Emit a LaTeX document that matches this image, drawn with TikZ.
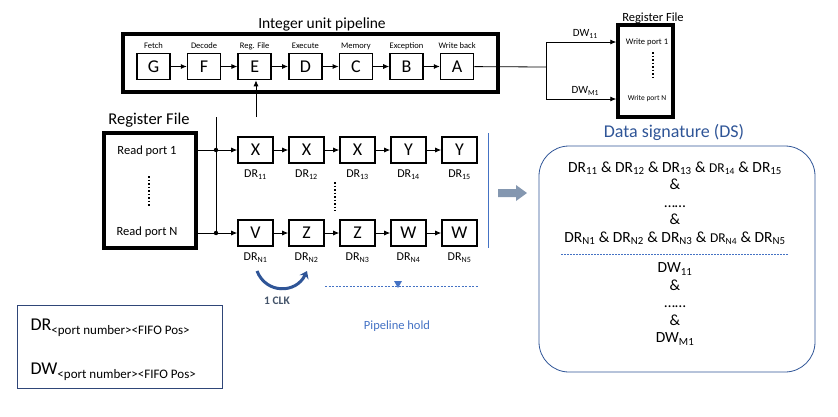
\documentclass[tikz,border=0pt]{standalone}
\usepackage{fontspec}
\setmainfont{Carlito}
\usetikzlibrary{arrows.meta}
\definecolor{lineblue}{RGB}{68,114,196}
\definecolor{titleblue}{RGB}{47,85,151}
\definecolor{legendblue}{RGB}{47,70,120}
\definecolor{clkgray}{RGB}{68,84,106}
\definecolor{hintgray}{RGB}{132,151,176}

\tikzset{
  stagebox/.style={draw,line width=1.6pt,minimum width=33pt,minimum height=26pt,inner sep=0pt,font=\fontsize{18}{18}\selectfont},
  fifobox/.style={stagebox,minimum width=35pt},
  stagename/.style={font=\fontsize{8.5}{8.5}\selectfont},
  fifoname/.style={font=\fontsize{12}{12}\selectfont},
  bigbox/.style={draw,line width=3.5pt,inner sep=0pt},
  wire/.style={line width=0.8pt,-{Latex[length=6pt,width=5pt]}},
  dsline/.style={font=\fontsize{15.5}{17.5}\selectfont,align=center},
}

\begin{document}
\begin{tikzpicture}[x=1pt,y=-1pt]
        \useasboundingbox (0,0) rectangle (838,416);
        % integer pipeline
        \node[bigbox,minimum width=375pt,minimum height=58pt] (pipe) at (310.5,63) {};
        \node[font=\fontsize{15.5}{15.5}\selectfont] (pipetitle) at (322,24) {Integer unit pipeline};
        \foreach \st/\nm [count=\i from 0] in {G/Fetch,F/Decode,E/Reg. File,D/Execute,C/Memory,B/Exception,A/Write back}{
            \node[stagebox] (s\i) at (153.5+50.6*\i,66.5) {\st};
            \node[stagename] (n\i) at (153.5+50.6*\i,46) {\nm};
        }
        \foreach \i [count=\j from 1] in {0,...,5}
            \draw[wire] (s\i) -- (s\j);

        % write side
        \coordinate (split) at (546,67);
        \node[bigbox,minimum width=55pt,minimum height=92pt] (wrf) at (645.5,71) {};
        \node[font=\fontsize{12.5}{12.5}\selectfont] (wrftitle) at (653,18) {Register File};
        \node[font=\fontsize{8.5}{8.5}\selectfont] (wp1) at (647,42) {Write port 1};
        \node[font=\fontsize{7.5}{7.5}\selectfont] (wpn) at (647,99) {Write port N};
        \draw[line width=1.5pt,dotted] (653,52) -- (653,80);
        \draw[line width=0.8pt] (s6) -- (split);
        \draw[wire] (split) |- (wrf.west |- wp1) node[pos=0.78,above,font=\fontsize{11}{11}\selectfont] {DW\textsubscript{11}};
        \draw[wire] (split) |- (wrf.west |- wpn) node[pos=0.78,above,font=\fontsize{11}{11}\selectfont] {DW\textsubscript{M1}};

        % read side
        \node[bigbox,minimum width=92pt,minimum height=115pt] (rrf) at (150,190.5) {};
        \node[font=\fontsize{16.5}{16.5}\selectfont] (rrftitle) at (149,120) {Register File};
        \node[font=\fontsize{12.5}{12.5}\selectfont] (rp1) at (147,151) {Read port 1};
        \node[font=\fontsize{12.5}{12.5}\selectfont] (rpn) at (147,232) {Read port N};
        \draw[line width=1.5pt,dotted] (149,176) -- (149,206);
        \foreach \v [count=\i] in {X,X,X,Y,Y}
            \node[fifobox,label={[fifoname,label distance=2.5pt]below:DR\textsubscript{1\i}}] (a\i) at (204.5+51*\i,150) {\v};
        \foreach \v [count=\i] in {V,Z,Z,W,W}
            \node[fifobox,label={[fifoname,label distance=2.5pt]below:DR\textsubscript{N\i}}] (b\i) at (204.5+51*\i,233) {\v};
        \foreach \i [count=\j from 2] in {1,...,4}{
            \draw[wire] (a\i) -- (a\j);
            \draw[wire] (b\i) -- (b\j);
        }
        \coordinate (bustop) at (216,117);
        \coordinate (bus1) at (216,150);
        \coordinate (busn) at (216,233);
        \draw[line width=0.8pt] (bustop) -- (busn);
        \draw[wire] (rrf.east |- bus1) -- (a1);
        \draw[wire] (rrf.east |- busn) -- (b1);
        \fill (bus1) circle (2.2pt);
        \fill (busn) circle (2.2pt);
        \coordinate (etap) at (256,117);
        \draw[wire] (etap) -- (etap |- s2.south);
        \draw[line width=1.5pt,dotted] (335,182) -- (335,211);

        % hold and clock
        \draw[lineblue,line width=0.8pt] (488,133) -- (488,248);
        \draw[lineblue,line width=0.8pt,dash pattern=on 2pt off 1.5pt] (325,286) -- (479,286);
        \fill[lineblue] (394,281) -- (402,281) -- (398,288) -- cycle;
        \node[lineblue,font=\fontsize{12.5}{12.5}\selectfont] (hold) at (397,326) {Pipeline hold};
        \coordinate (clkfrom) at (257,271);
        \coordinate (clkto) at (307,271);
        \draw[titleblue,line width=3pt,-{Stealth[length=7pt,width=10pt]}] (clkfrom) .. controls (266,294) and (296,294) .. (clkto);
        \node[clkgray,font=\bfseries\fontsize{11.5}{11.5}\selectfont] (clk) at (277,301) {1 CLK};
        \fill[hintgray] (498,189) -- (516,189) -- (516,185) -- (527,193) -- (516,201) -- (516,197) -- (498,197) -- cycle;

        % data signature
        \node[titleblue,font=\fontsize{18}{18}\selectfont] (dstitle) at (674,132) {Data signature (DS)};
        \node[draw=titleblue,line width=0.8pt,rounded corners=30pt,minimum width=276pt,minimum height=226pt] (ds) at (677,259) {};
        \node[dsline] (dsr) at (675,203) {DR\textsubscript{11} \& DR\textsubscript{12} \& DR\textsubscript{13} \& {\fontsize{13.5}{13.5}\selectfont DR\textsubscript{14}} \& DR\textsubscript{15}\\ \&\\ ……\\ \&\\ DR\textsubscript{N1} \& DR\textsubscript{N2} \& DR\textsubscript{N3} \& {\fontsize{13.5}{13.5}\selectfont DR\textsubscript{N4}} \& DR\textsubscript{N5}};
        \draw[lineblue,line width=0.6pt,dash pattern=on 2pt off 1pt] (561,254) -- (788,254);
        \node[dsline] (dsw) at (675,304) {DW\textsubscript{11}\\ \&\\ ……\\ \&\\ DW\textsubscript{M1}};

        % legend
        \node[draw=legendblue,line width=1pt,minimum width=205pt,minimum height=83pt] (legend) at (119.5,346.5) {};
        \node[anchor=west,font=\fontsize{18}{18}\selectfont] (legdr) at (27,328) {DR\raisebox{-4pt}{\fontsize{13}{13}\selectfont <port number>{}<FIFO Pos>}};
        \node[anchor=west,font=\fontsize{18}{18}\selectfont] (legdw) at (27,372) {DW\raisebox{-4pt}{\fontsize{13}{13}\selectfont <port number>{}<FIFO Pos>}};
\end{tikzpicture}
\end{document}
